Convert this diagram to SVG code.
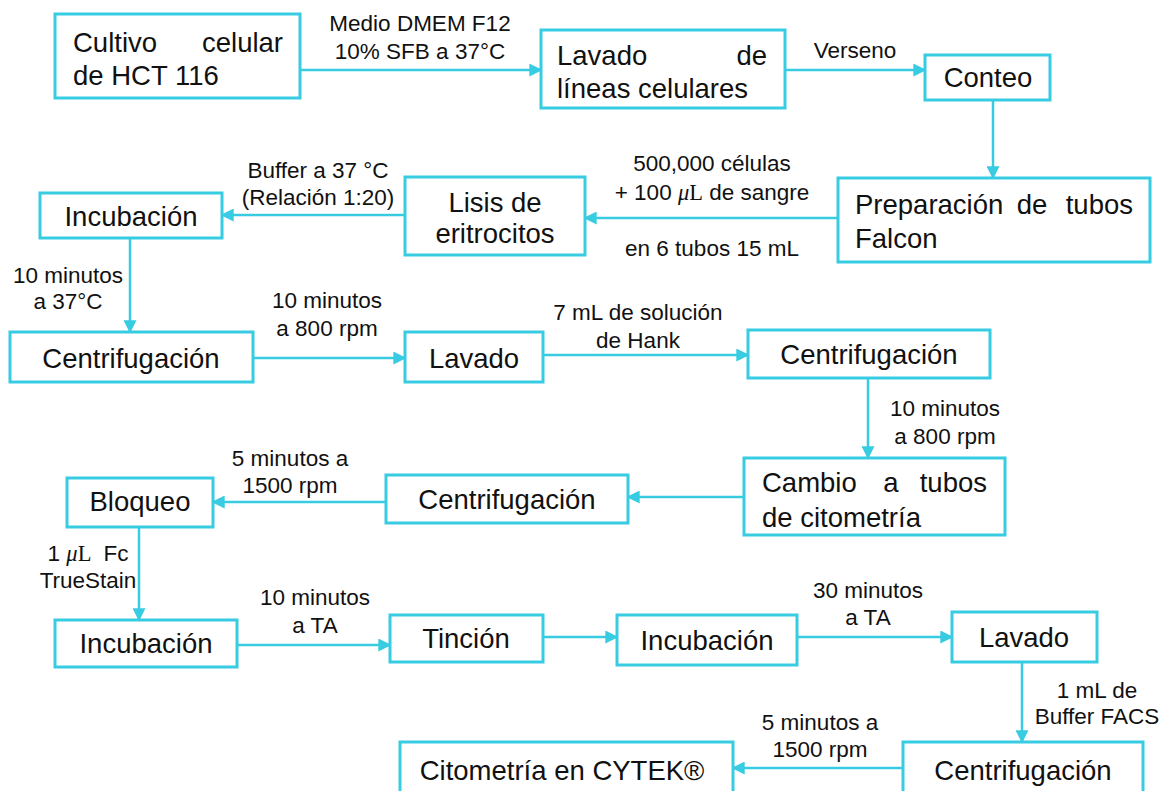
<svg xmlns="http://www.w3.org/2000/svg" width="1169" height="791" viewBox="0 0 1169 791">
  <style>
    .box { fill: #ffffff; stroke: #38CCE2; stroke-width: 3; }
    .t { font-family: "Liberation Sans", Arial, sans-serif; font-size: 27.5px; fill: #111111; }
    .lb { font-family: "Liberation Sans", Arial, sans-serif; font-size: 22.5px; fill: #111111; text-anchor: middle; }
    .mu { font-family: "Liberation Serif", serif; font-style: italic; }
    .ml { font-family: "Liberation Serif", serif; }
    .c { text-anchor: middle; }
    .e { text-anchor: end; }
    .conn line { stroke: #38CCE2; stroke-width: 2.5; fill: none; marker-end: url(#ah); }
  </style>
  <defs>
    <marker id="ah" viewBox="0 0 10 10" refX="9" refY="5" markerWidth="13" markerHeight="13" markerUnits="userSpaceOnUse" orient="auto">
      <path d="M0,0 L10,5 L0,10 z" fill="#38CCE2"/>
    </marker>
  </defs>
  <rect width="1169" height="791" fill="#ffffff"/>

  <!-- connectors -->
  <g id="connectors" class="conn">
    <line x1="300" y1="70" x2="541" y2="70"/>
    <line x1="785" y1="70" x2="925" y2="70"/>
    <line x1="993" y1="100" x2="993" y2="178"/>
    <line x1="838" y1="218" x2="585" y2="218"/>
    <line x1="405" y1="215" x2="222" y2="215"/>
    <line x1="130" y1="238" x2="130" y2="332"/>
    <line x1="253" y1="358" x2="405" y2="358"/>
    <line x1="543" y1="355" x2="748" y2="355"/>
    <line x1="868" y1="378" x2="868" y2="458"/>
    <line x1="744" y1="497" x2="628" y2="497"/>
    <line x1="386" y1="502" x2="213" y2="502"/>
    <line x1="139" y1="527" x2="139" y2="620"/>
    <line x1="237" y1="645" x2="390" y2="645"/>
    <line x1="543" y1="637" x2="617" y2="637"/>
    <line x1="797" y1="637" x2="952" y2="637"/>
    <line x1="1022" y1="662" x2="1022" y2="742"/>
    <line x1="903" y1="768" x2="733" y2="768"/>
  </g>

  <!-- connector labels -->
  <g id="labels">
    <text class="lb" x="420" y="31">Medio DMEM F12</text>
    <text class="lb" x="420" y="59">10% SFB a 37°C</text>
    <text class="lb" x="855" y="58">Verseno</text>
    <text class="lb" x="712" y="171">500,000 células</text>
    <text class="lb" x="712" y="200">+ 100 <tspan class="mu">μ</tspan><tspan class="ml">L</tspan> de sangre</text>
    <text class="lb" x="712" y="256">en 6 tubos 15 mL</text>
    <text class="lb" x="318" y="178">Buffer a 37 °C</text>
    <text class="lb" x="318" y="205">(Relación 1:20)</text>
    <text class="lb" x="68" y="283">10 minutos</text>
    <text class="lb" x="68" y="309">a 37°C</text>
    <text class="lb" x="327" y="308">10 minutos</text>
    <text class="lb" x="327" y="336">a 800 rpm</text>
    <text class="lb" x="638" y="320">7 mL de solución</text>
    <text class="lb" x="638" y="348">de Hank</text>
    <text class="lb" x="945" y="416">10 minutos</text>
    <text class="lb" x="945" y="444">a 800 rpm</text>
    <text class="lb" x="290" y="466">5 minutos a</text>
    <text class="lb" x="290" y="493">1500 rpm</text>
    <text class="lb" x="88" y="561">1 <tspan class="mu">μ</tspan><tspan class="ml">L</tspan><tspan dx="12">Fc</tspan></text>
    <text class="lb" x="88" y="588">TrueStain</text>
    <text class="lb" x="315" y="605">10 minutos</text>
    <text class="lb" x="315" y="633">a TA</text>
    <text class="lb" x="868" y="598">30 minutos</text>
    <text class="lb" x="868" y="625">a TA</text>
    <text class="lb" x="1097" y="698">1 mL de</text>
    <text class="lb" x="1097" y="724">Buffer FACS</text>
    <text class="lb" x="820" y="730">5 minutos a</text>
    <text class="lb" x="820" y="757">1500 rpm</text>
  </g>

  <!-- nodes -->
  <g id="cultivo">
    <rect class="box" x="55" y="14" width="245" height="84"/>
    <text class="t" x="73" y="52">Cultivo</text>
    <text class="t e" x="283" y="52">celular</text>
    <text class="t" x="73" y="85">de HCT 116</text>
  </g>
  <g id="lavado-lineas">
    <rect class="box" x="541" y="30" width="244" height="78"/>
    <text class="t" x="557" y="65">Lavado</text>
    <text class="t e" x="767" y="65">de</text>
    <text class="t" x="557" y="98">líneas celulares</text>
  </g>
  <g id="conteo">
    <rect class="box" x="925" y="55" width="125" height="45"/>
    <text class="t c" x="988" y="87">Conteo</text>
  </g>
  <g id="preparacion">
    <rect class="box" x="838" y="178" width="312" height="84"/>
    <text class="t" x="855" y="214">Preparación</text>
    <text class="t c" x="1032" y="214">de</text>
    <text class="t e" x="1133" y="214">tubos</text>
    <text class="t" x="855" y="248">Falcon</text>
  </g>
  <g id="lisis">
    <rect class="box" x="405" y="177" width="180" height="78"/>
    <text class="t c" x="495" y="212">Lisis de</text>
    <text class="t c" x="495" y="243">eritrocitos</text>
  </g>
  <g id="incubacion-1">
    <rect class="box" x="40" y="193" width="182" height="45"/>
    <text class="t c" x="131" y="226">Incubación</text>
  </g>
  <g id="centrifugacion-1">
    <rect class="box" x="10" y="332" width="243" height="50"/>
    <text class="t c" x="131" y="368">Centrifugación</text>
  </g>
  <g id="lavado-1">
    <rect class="box" x="405" y="332" width="138" height="50"/>
    <text class="t c" x="474" y="368">Lavado</text>
  </g>
  <g id="centrifugacion-2">
    <rect class="box" x="748" y="330" width="242" height="48"/>
    <text class="t c" x="869" y="364">Centrifugación</text>
  </g>
  <g id="cambio">
    <rect class="box" x="744" y="458" width="261" height="77"/>
    <text class="t" x="762" y="492">Cambio</text>
    <text class="t c" x="891" y="492">a</text>
    <text class="t e" x="987" y="492">tubos</text>
    <text class="t" x="762" y="527">de citometría</text>
  </g>
  <g id="centrifugacion-3">
    <rect class="box" x="386" y="475" width="242" height="48"/>
    <text class="t c" x="507" y="509">Centrifugación</text>
  </g>
  <g id="bloqueo">
    <rect class="box" x="67" y="478" width="146" height="49"/>
    <text class="t c" x="140" y="511">Bloqueo</text>
  </g>
  <g id="incubacion-2">
    <rect class="box" x="55" y="620" width="182" height="47"/>
    <text class="t c" x="146" y="653">Incubación</text>
  </g>
  <g id="tincion">
    <rect class="box" x="390" y="615" width="153" height="47"/>
    <text class="t c" x="466" y="648">Tinción</text>
  </g>
  <g id="incubacion-3">
    <rect class="box" x="617" y="615" width="180" height="50"/>
    <text class="t c" x="707" y="650">Incubación</text>
  </g>
  <g id="lavado-2">
    <rect class="box" x="952" y="612" width="145" height="50"/>
    <text class="t c" x="1024" y="647">Lavado</text>
  </g>
  <g id="centrifugacion-4">
    <rect class="box" x="903" y="742" width="240" height="60"/>
    <text class="t c" x="1023" y="780">Centrifugación</text>
  </g>
  <g id="citometria">
    <rect class="box" x="400" y="742" width="333" height="60"/>
    <text class="t c" x="562" y="780">Citometría en CYTEK®</text>
  </g>
</svg>
